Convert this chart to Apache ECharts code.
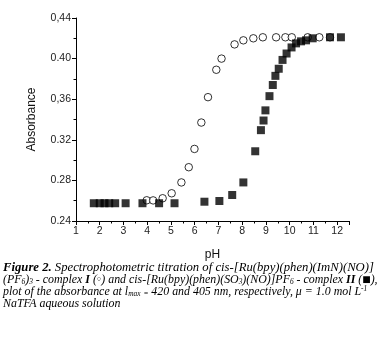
<!DOCTYPE html>
<html>
<head>
<meta charset="utf-8">
<script src="https://cdn.jsdelivr.net/npm/echarts@6/dist/echarts.min.js"></script>
<style>html,body{margin:0;padding:0;background:#fff}#c{width:384px;height:342px}</style>
</head>
<body>
<div id="c"></div>
<script>
// Complex I (open circles): [pH, absorbance]
const complexI_pH  = [3.98, 4.25, 4.65, 5.03, 5.44, 5.75, 5.99, 6.28, 6.56, 6.91, 7.13, 7.68, 8.05, 8.47, 8.87, 9.43, 9.82, 10.09, 10.76, 11.25, 11.70];
const complexI_abs = [0.2604, 0.2603, 0.2624, 0.2673, 0.278, 0.293, 0.311, 0.337, 0.362, 0.389, 0.400, 0.414, 0.418, 0.420, 0.421, 0.421, 0.421, 0.421, 0.421, 0.421, 0.421];
// Complex II (filled squares): [pH, absorbance]
const complexII_pH  = [1.75, 2.0, 2.2, 2.4, 2.65, 3.09, 3.80, 4.50, 5.15, 6.41, 7.04, 7.58, 8.05, 8.55, 8.79, 8.90, 8.98, 9.15, 9.29, 9.40, 9.54, 9.70, 9.87, 10.08, 10.27, 10.48, 10.69, 10.97, 11.70, 12.16];
const complexII_abs = [0.2575, 0.2575, 0.2575, 0.2575, 0.2575, 0.2575, 0.2575, 0.2575, 0.2575, 0.259, 0.2597, 0.2656, 0.278, 0.3087, 0.3295, 0.339, 0.349, 0.363, 0.374, 0.383, 0.390, 0.3987, 0.405, 0.411, 0.415, 0.417, 0.418, 0.420, 0.421, 0.421];
const xTickLabels = ['1','2','3','4','5','6','7','8','9','10','11','12'];
const yTickLabels = ['0.24','0.28','0.32','0,36','0.40','0,44'];

const chart = echarts.init(document.getElementById('c'), null, {renderer: 'canvas'});
const sans = 'Liberation Sans, Arial, sans-serif';
const serif = 'Liberation Serif, Times New Roman, serif';
const zip = (a, b) => a.map((v, i) => [v, b[i]]);

const captionLines = [
  '{b|Figure 2.} Spectrophotometric titration of cis-[Ru(bpy)(phen)(ImN)(NO)]',
  '(PF{s|6}){s|3} - complex {b|I} {y|(}{m|○}{y|)} and cis-[Ru(bpy)(phen)(SO{s|3})(NO)]PF{s|6} - complex {b|II} {y|(}{q|■}{y|)},',
  'plot of the absorbance at l{s|max} {s|=} 420 and 405 nm, respectively, μ = 1.0 mol L{p|-1}',
  'NaTFA aqueous solution'
];
const captionSizes = [12.7, 11.9, 11.9, 11.9];

function richFor(fs) {
  const c = '#222', lh = 12.3;
  return {
    b: {fontFamily: serif, fontStyle: 'italic', fontWeight: 'bold', fontSize: fs, color: c, lineHeight: lh},
    y: {fontFamily: serif, fontStyle: 'italic', fontSize: fs, color: c, lineHeight: lh},
    m: {fontFamily: sans, fontSize: fs * 0.62, color: c, lineHeight: lh},
    q: {fontFamily: 'DejaVu Sans, sans-serif', fontSize: fs * 0.75, color: c, lineHeight: lh},
    s: {fontFamily: serif, fontStyle: 'italic', fontSize: fs * 0.62, color: c, lineHeight: lh, verticalAlign: 'bottom'},
    p: {fontFamily: serif, fontStyle: 'italic', fontSize: fs * 0.62, color: c, lineHeight: lh, verticalAlign: 'top'}
  };
}

chart.setOption({
  animation: false,
  backgroundColor: '#fff',
  grid: {left: 76, right: 35, top: 18, bottom: 121, containLabel: false},
  xAxis: {
    type: 'value', min: 1, max: 12.5, interval: 1,
    name: 'pH', nameLocation: 'middle', nameGap: 28,
    nameTextStyle: {fontFamily: sans, fontSize: 12, color: '#111'},
    axisLine: {show: true, onZero: false, lineStyle: {color: '#000', width: 1}},
    axisTick: {show: true, length: 4, lineStyle: {color: '#000'}},
    minorTick: {show: true, splitNumber: 2, length: 2.5, lineStyle: {color: '#000'}},
    splitLine: {show: false},
    axisLabel: {fontFamily: sans, fontSize: 10.5, color: '#222', margin: 5, showMaxLabel: false,
      formatter: v => Math.abs(v - Math.round(v)) < 1e-6 ? xTickLabels[Math.round(v) - 1] : ''}
  },
  yAxis: {
    type: 'value', min: 0.24, max: 0.44, interval: 0.04,
    name: 'Absorbance', nameLocation: 'middle', nameGap: 38,
    nameTextStyle: {fontFamily: sans, fontSize: 12, color: '#111'},
    axisLine: {show: true, lineStyle: {color: '#000', width: 1}},
    axisTick: {show: true, length: 4, lineStyle: {color: '#000'}},
    minorTick: {show: true, splitNumber: 2, length: 2.5, lineStyle: {color: '#000'}},
    splitLine: {show: false},
    axisLabel: {fontFamily: sans, fontSize: 10.5, color: '#222', margin: 5,
      formatter: v => yTickLabels[Math.round((v - 0.24) / 0.04)]}
  },
  series: [
    {type: 'scatter', data: zip(complexI_pH, complexI_abs), symbol: 'circle', symbolSize: 7.5,
     itemStyle: {color: '#fff', borderColor: '#000', borderWidth: 1}, z: 2},
    {type: 'scatter', data: zip(complexII_pH, complexII_abs), symbol: 'rect', symbolSize: 8,
     itemStyle: {color: '#000'}, z: 3}
  ],
  graphic: captionLines.map((t, i) => ({
    type: 'text', left: 3, top: 261 + i * 12.3,
    style: {text: t, rich: richFor(captionSizes[i]), fontFamily: serif, fontStyle: 'italic',
            fontSize: captionSizes[i], lineHeight: 12.3, color: '#222'}
  }))
});
</script>
</body>
</html>
